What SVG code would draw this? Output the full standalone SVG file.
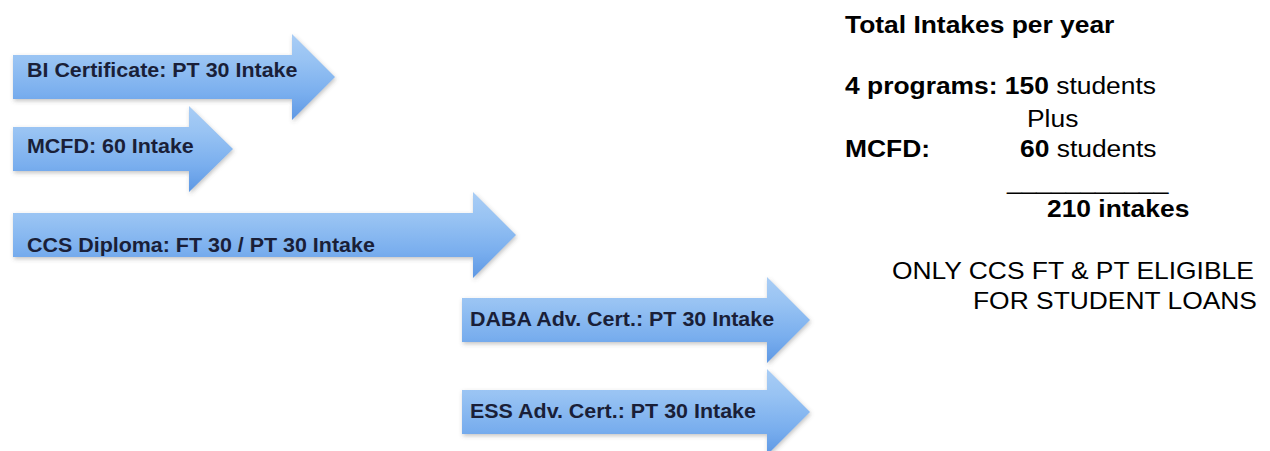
<svg xmlns="http://www.w3.org/2000/svg" width="1270" height="451" viewBox="0 0 1270 451">
  <style>
    .arrow { fill: url(#arrowFill); filter: url(#shadow); }
    .lbl { font-family: "Liberation Sans", Arial, sans-serif; font-weight: bold; font-size: 19.5px; fill: #1a1f38; }
    .side { font-family: "Liberation Sans", Arial, sans-serif; font-size: 24px; fill: #000; }
    .b { font-weight: bold; }
  </style>
  <defs>
    <linearGradient id="arrowFill" x1="0" y1="0" x2="0" y2="1">
      <stop offset="0" stop-color="#a9cdf5"/>
      <stop offset="0.3" stop-color="#98c3f3"/>
      <stop offset="0.7" stop-color="#79aeee"/>
      <stop offset="1" stop-color="#5e98e4"/>
    </linearGradient>
    <filter id="shadow" x="-5%" y="-20%" width="115%" height="150%">
      <feDropShadow dx="1" dy="2" stdDeviation="2" flood-color="#555" flood-opacity="0.35"/>
    </filter>
  </defs>

  <rect width="1270" height="451" fill="#fff"/>

  <!-- program arrows -->
  <g id="bi-certificate">
    <path class="arrow" d="M13,55 H292 V34 L335,77 L292,120 V99 H13 Z"/>
    <text class="lbl" transform="translate(27 77) scale(1.1 1)">BI Certificate: PT 30 Intake</text>
  </g>
  <g id="mcfd">
    <path class="arrow" d="M13,127 H189 V106 L233,149 L189,192 V171 H13 Z"/>
    <text class="lbl" transform="translate(27 153) scale(1.1 1)">MCFD: 60 Intake</text>
  </g>
  <g id="ccs-diploma">
    <path class="arrow" d="M13,213 H473 V192 L516,235 L473,278 V257 H13 Z"/>
    <text class="lbl" transform="translate(27 252) scale(1.1 1)">CCS Diploma: FT 30 / PT 30 Intake</text>
  </g>
  <g id="daba-adv-cert">
    <path class="arrow" d="M462,298 H767 V277 L810,320 L767,363 V342 H462 Z"/>
    <text class="lbl" transform="translate(470 326) scale(1.1 1)">DABA Adv. Cert.: PT 30 Intake</text>
  </g>
  <g id="ess-adv-cert">
    <path class="arrow" d="M462,390 H767 V369 L810,412 L767,455 V434 H462 Z"/>
    <text class="lbl" transform="translate(470 418) scale(1.1 1)">ESS Adv. Cert.: PT 30 Intake</text>
  </g>

  <!-- no connectors: the arrows carry the flow themselves -->
  <g id="connectors"></g>

  <!-- intake totals -->
  <g id="totals">
    <text class="side b" transform="translate(845 33) scale(1.1 1)">Total Intakes per year</text>
    <text class="side" transform="translate(845 94) scale(1.1 1)"><tspan class="b">4 programs: 150</tspan> students</text>
    <text class="side" transform="translate(1027 127) scale(1.1 1)">Plus</text>
    <text class="side b" transform="translate(845 157) scale(1.1 1)">MCFD:</text>
    <text class="side" transform="translate(1020 157) scale(1.1 1)"><tspan class="b">60</tspan> students</text>
    <text class="side" transform="translate(1007 189) scale(1.1 1)">___________</text>
    <text class="side b" transform="translate(1047 217) scale(1.1 1)">210 intakes</text>
    <text class="side" transform="translate(892 279) scale(1.1 1)">ONLY CCS FT &amp; PT ELIGIBLE</text>
    <text class="side" transform="translate(973 309) scale(1.1 1)">FOR STUDENT LOANS</text>
  </g>
</svg>
